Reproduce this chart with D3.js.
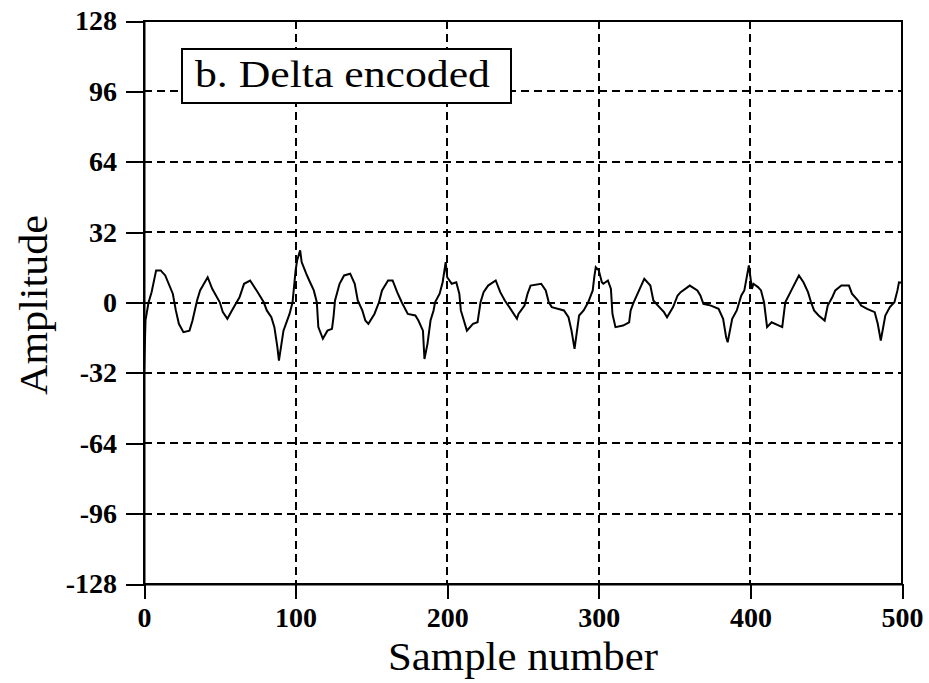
<!DOCTYPE html>
<html>
<head>
<meta charset="utf-8">
<script src="https://cdn.jsdelivr.net/npm/d3@7"></script>
<style>
    body { margin: 0; background: #fff; }
    svg { display: block; }
</style>
</head>
<body>
<svg id="chart" width="929" height="683"></svg>
<script>
// sample positions and amplitudes (vertices)
var sampleIdx = [0, 1, 3, 5, 8, 11, 14, 19, 21, 23, 26, 30, 32, 35, 37, 42, 45, 50, 52, 55, 58, 63, 66, 70, 75, 79, 81, 84, 86, 88, 89, 92, 96, 98,
    100, 101, 103, 104, 107, 109, 112, 114, 115, 118, 121, 124, 125, 126, 129, 132, 136, 139, 141, 144, 146, 148, 152, 155, 157, 161, 164, 167, 170, 174, 179, 181, 184, 185, 187, 189, 191, 192, 195, 197, 199,
    200, 203, 206, 208, 209, 211, 213, 217, 220, 222, 224, 227, 232, 235, 238, 241, 246, 247, 251, 253, 255, 262, 265, 267, 269, 277, 280, 282, 284, 287, 290, 293, 296, 297, 298,
    300, 302, 303, 306, 308, 309, 311, 316, 320, 321, 323, 327, 330, 334, 336, 339, 343, 345, 349, 352, 354, 360, 365, 367, 369, 374, 379, 382, 384, 385, 388, 391, 394, 396, 398, 399,
    401, 402, 405, 407, 409, 411, 414, 421, 423, 427, 432, 435, 438, 440, 442, 445, 449, 451, 454, 456, 460, 465, 467, 471, 473, 477, 482, 484, 486, 489, 492, 495, 497, 498, 500];
var amplitude = [-33, -8, 0, 4.7, 14.6, 14.6, 12.3, 4, -3.6, -9.7, -13.5, -12.8, -8.2, 0.9, 5.5, 11.5, 6.2, 0.1, -4.4, -7.4, -3.6, 2.4, 8.5, 10, 4.7, 0.1, -3.6, -6.7, -11.2, -20.4, -26.4, -12.8, -5.2, 0.1,
    14.6, 19.1, 23.7, 18.4, 13.1, 10, 5.5, 0.1, -11.2, -16.5, -12.8, -12, -6.7, 0.9, 8.5, 12.3, 13.1, 8.5, 0.9, -3.6, -8.2, -9.7, -5.2, 0.1, 5.5, 10, 10, 4.7, 0.1, -5.2, -5.9, -8.2, -12.8, -25.7, -18.8, -8.2, -3.6, 0.1, 4, 9.2, 18.4,
    11.5, 8.5, 9.2, 4, -3.6, -8.2, -12.8, -9.7, -9, 0.1, 4.7, 7.7, 10, 4.7, 0.9, -2.1, -7.4, -5.2, -1.4, 4, 7.7, 8.5, 5.5, 0.1, -2.1, -3.6, -6.7, -12.8, -21.1, -5.9, -3.6, 0.1, 5.5, 11.5, 16.1,
    14.6, 9.2, 8.5, 10, 6.2, -5.2, -11.2, -10.5, -9, -3.6, 0.1, 6.2, 10.8, 7.7, 0.9, -1.4, -4.4, -6.7, -2.1, 3.2, 4.7, 7.7, 5.5, 3.2, -0.6, -1.4, -2.9, -7.4, -15.8, -18.1, -7.4, -3.6, 3.2, 5.5, 13.1, 16.9,
    6.2, 8.5, 7, 5.5, 0.1, -11.2, -9, -11.2, 0.1, 5.5, 12.3, 9.2, 4.7, 0.1, -3.6, -5.9, -8.2, -1.4, 2.4, 5.5, 7.7, 7.7, 4, 0.9, -1.4, -2.9, -4.4, -9.7, -17.3, -5.9, -2.1, 0.1, 5.5, 9.2, 9];

var xTicks = [0, 100, 200, 300, 400, 500];
var yTicks = [-128, -96, -64, -32, 0, 32, 64, 96, 128];
var panelLabel = "b. Delta encoded";
var xTitle = "Sample number";
var yTitle = "Amplitude";

var serif = "Liberation Serif";

var svg = d3.select("#chart");
var plotLeft = 144, plotRight = 902, plotTop = 21, plotBottom = 584;

var x = d3.scaleLinear().domain([0, 500]).range([plotLeft, plotRight]);
var y = d3.scaleLinear().domain([-128, 128]).range([plotBottom, plotTop]);

// dashed grid
var grid = svg.append("g")
    .attr("stroke", "#000")
    .attr("stroke-width", 2)
    .attr("stroke-dasharray", "8,5")
    .attr("shape-rendering", "crispEdges");
grid.selectAll("line.v")
    .data(xTicks.slice(1, -1))
    .enter()
    .append("line")
    .attr("class", "v")
    .attr("x1", function (d) { return x(d); })
    .attr("x2", function (d) { return x(d); })
    .attr("y1", plotTop)
    .attr("y2", plotBottom);
grid.selectAll("line.h")
    .data(yTicks.slice(1, -1))
    .enter()
    .append("line")
    .attr("class", "h")
    .attr("x1", plotLeft)
    .attr("x2", plotRight)
    .attr("y1", function (d) { return y(d); })
    .attr("y2", function (d) { return y(d); });

// frame
svg.append("rect")
    .attr("x", plotLeft)
    .attr("y", plotTop)
    .attr("width", plotRight - plotLeft)
    .attr("height", plotBottom - plotTop)
    .attr("fill", "none")
    .attr("stroke", "#000")
    .attr("stroke-width", 2)
    .attr("shape-rendering", "crispEdges");

// axes
var yAxis = svg.append("g")
    .attr("transform", "translate(" + plotLeft + ",0)")
    .call(d3.axisLeft(y).tickValues(yTicks).tickSize(18).tickPadding(9).tickSizeOuter(0)
        .tickFormat(function (d) { return d < 0 ? "-" + Math.abs(d) : d; }));
var xAxis = svg.append("g")
    .attr("transform", "translate(0," + plotBottom + ")")
    .call(d3.axisBottom(x).tickValues(xTicks).tickSize(15).tickPadding(8).tickSizeOuter(0));

[yAxis, xAxis].forEach(function (g) {
    g.attr("font-family", serif).attr("font-size", 28).attr("font-weight", "bold");
    g.select(".domain").attr("stroke-width", 2);
    g.selectAll(".tick line").attr("stroke-width", 2).attr("shape-rendering", "crispEdges");
});

// signal
var line = d3.line()
    .x(function (d, i) { return x(sampleIdx[i]); })
    .y(function (d) { return y(d); });

svg.append("path")
    .attr("d", line(amplitude))
    .attr("fill", "none")
    .attr("stroke", "#000")
    .attr("stroke-width", 2)
    .attr("stroke-linejoin", "miter");

// panel label box
svg.append("rect")
    .attr("x", 182)
    .attr("y", 49)
    .attr("width", 329)
    .attr("height", 54)
    .attr("fill", "#fff")
    .attr("stroke", "#000")
    .attr("stroke-width", 2)
    .attr("shape-rendering", "crispEdges");
svg.append("text")
    .attr("x", 195)
    .attr("y", 87)
    .attr("font-family", serif)
    .attr("font-size", 37)
    .attr("textLength", 295)
    .attr("lengthAdjust", "spacingAndGlyphs")
    .text(panelLabel);

// titles
svg.append("text")
    .attr("x", 523)
    .attr("y", 670)
    .attr("text-anchor", "middle")
    .attr("font-family", serif)
    .attr("font-size", 39)
    .attr("textLength", 270)
    .attr("lengthAdjust", "spacingAndGlyphs")
    .text(xTitle);

svg.append("text")
    .attr("transform", "translate(47,305) rotate(-90)")
    .attr("text-anchor", "middle")
    .attr("font-family", serif)
    .attr("font-size", 39)
    .attr("textLength", 180)
    .attr("lengthAdjust", "spacingAndGlyphs")
    .text(yTitle);
</script>
</body>
</html>
